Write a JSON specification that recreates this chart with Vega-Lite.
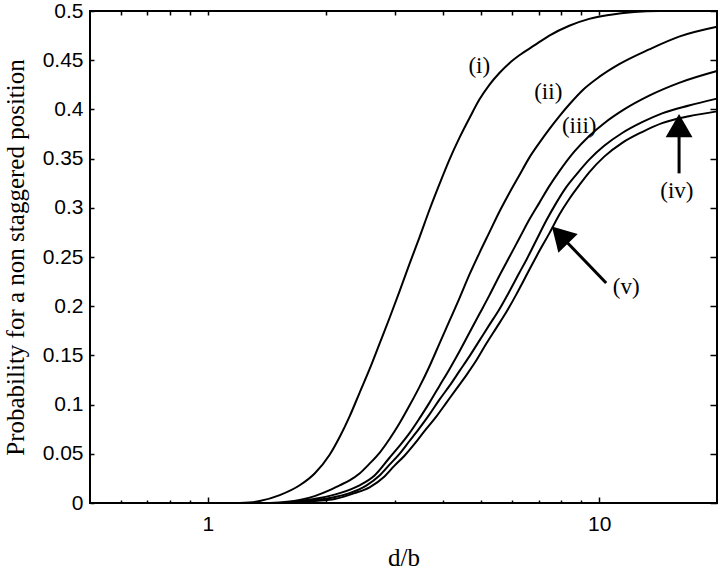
{
  "$schema": "https://vega.github.io/schema/vega-lite/v6.json",
  "width": 627,
  "height": 492,
  "autosize": {"type": "none"},
  "padding": {"left": 90, "top": 11, "right": 3, "bottom": 68},
  "background": "white",
  "config": {
    "view": {"stroke": "black", "strokeWidth": 2},
    "axis": {"domain": false, "grid": false, "tickColor": "black", "tickWidth": 1.5, "labelColor": "black", "titleColor": "black", "labelFont": "Liberation Sans", "labelFontSize": 21, "titleFont": "Liberation Serif", "titleFontSize": 25, "titleFontWeight": "normal"}
  },
  "datasets": {
    "curves": [
      {"c": "i", "d": 1.207, "p": 0}, {"c": "i", "d": 1.357, "p": 0.002}, {"c": "i", "d": 1.527, "p": 0.008}, {"c": "i", "d": 1.717, "p": 0.018}, {"c": "i", "d": 1.875, "p": 0.030}, {"c": "i", "d": 2.048, "p": 0.049}, {"c": "i", "d": 2.172, "p": 0.067}, {"c": "i", "d": 2.303, "p": 0.088}, {"c": "i", "d": 2.442, "p": 0.112}, {"c": "i", "d": 2.590, "p": 0.136}, {"c": "i", "d": 2.747, "p": 0.162}, {"c": "i", "d": 2.913, "p": 0.188}, {"c": "i", "d": 3.089, "p": 0.215}, {"c": "i", "d": 3.276, "p": 0.243}, {"c": "i", "d": 3.474, "p": 0.270}, {"c": "i", "d": 3.685, "p": 0.298}, {"c": "i", "d": 3.907, "p": 0.324}, {"c": "i", "d": 4.144, "p": 0.349}, {"c": "i", "d": 4.394, "p": 0.371}, {"c": "i", "d": 4.660, "p": 0.391}, {"c": "i", "d": 4.942, "p": 0.410}, {"c": "i", "d": 5.241, "p": 0.425}, {"c": "i", "d": 5.559, "p": 0.437}, {"c": "i", "d": 5.895, "p": 0.447}, {"c": "i", "d": 6.252, "p": 0.455}, {"c": "i", "d": 6.826, "p": 0.465}, {"c": "i", "d": 7.457, "p": 0.475}, {"c": "i", "d": 8.385, "p": 0.485}, {"c": "i", "d": 9.430, "p": 0.492}, {"c": "i", "d": 10.60, "p": 0.496}, {"c": "i", "d": 12.28, "p": 0.499}, {"c": "i", "d": 14.23, "p": 0.5}, {"c": "i", "d": 20, "p": 0.5},
      {"c": "ii", "d": 1.439, "p": 0}, {"c": "ii", "d": 1.717, "p": 0.003}, {"c": "ii", "d": 1.875, "p": 0.007}, {"c": "ii", "d": 2.048, "p": 0.013}, {"c": "ii", "d": 2.172, "p": 0.018}, {"c": "ii", "d": 2.303, "p": 0.023}, {"c": "ii", "d": 2.442, "p": 0.030}, {"c": "ii", "d": 2.590, "p": 0.040}, {"c": "ii", "d": 2.747, "p": 0.051}, {"c": "ii", "d": 2.913, "p": 0.065}, {"c": "ii", "d": 3.089, "p": 0.081}, {"c": "ii", "d": 3.276, "p": 0.099}, {"c": "ii", "d": 3.474, "p": 0.118}, {"c": "ii", "d": 3.685, "p": 0.139}, {"c": "ii", "d": 3.907, "p": 0.162}, {"c": "ii", "d": 4.144, "p": 0.185}, {"c": "ii", "d": 4.394, "p": 0.208}, {"c": "ii", "d": 4.660, "p": 0.232}, {"c": "ii", "d": 4.942, "p": 0.254}, {"c": "ii", "d": 5.241, "p": 0.275}, {"c": "ii", "d": 5.559, "p": 0.296}, {"c": "ii", "d": 5.895, "p": 0.315}, {"c": "ii", "d": 6.252, "p": 0.333}, {"c": "ii", "d": 6.630, "p": 0.351}, {"c": "ii", "d": 7.031, "p": 0.366}, {"c": "ii", "d": 7.457, "p": 0.380}, {"c": "ii", "d": 7.907, "p": 0.393}, {"c": "ii", "d": 8.385, "p": 0.405}, {"c": "ii", "d": 9.156, "p": 0.421}, {"c": "ii", "d": 10.0, "p": 0.433}, {"c": "ii", "d": 11.25, "p": 0.446}, {"c": "ii", "d": 13.42, "p": 0.461}, {"c": "ii", "d": 16.0, "p": 0.474}, {"c": "ii", "d": 20, "p": 0.484},
      {"c": "iii", "d": 1.554, "p": 0}, {"c": "iii", "d": 1.717, "p": 0.002}, {"c": "iii", "d": 1.931, "p": 0.005}, {"c": "iii", "d": 2.172, "p": 0.010}, {"c": "iii", "d": 2.442, "p": 0.018}, {"c": "iii", "d": 2.667, "p": 0.028}, {"c": "iii", "d": 2.913, "p": 0.046}, {"c": "iii", "d": 3.089, "p": 0.058}, {"c": "iii", "d": 3.276, "p": 0.071}, {"c": "iii", "d": 3.474, "p": 0.086}, {"c": "iii", "d": 3.685, "p": 0.102}, {"c": "iii", "d": 3.907, "p": 0.119}, {"c": "iii", "d": 4.144, "p": 0.136}, {"c": "iii", "d": 4.394, "p": 0.154}, {"c": "iii", "d": 4.660, "p": 0.173}, {"c": "iii", "d": 4.942, "p": 0.192}, {"c": "iii", "d": 5.241, "p": 0.211}, {"c": "iii", "d": 5.559, "p": 0.231}, {"c": "iii", "d": 5.895, "p": 0.250}, {"c": "iii", "d": 6.252, "p": 0.269}, {"c": "iii", "d": 6.630, "p": 0.288}, {"c": "iii", "d": 7.031, "p": 0.305}, {"c": "iii", "d": 7.457, "p": 0.322}, {"c": "iii", "d": 7.907, "p": 0.337}, {"c": "iii", "d": 8.636, "p": 0.357}, {"c": "iii", "d": 9.430, "p": 0.373}, {"c": "iii", "d": 10.30, "p": 0.386}, {"c": "iii", "d": 11.58, "p": 0.400}, {"c": "iii", "d": 13.42, "p": 0.414}, {"c": "iii", "d": 16.0, "p": 0.427}, {"c": "iii", "d": 20, "p": 0.439},
      {"c": "iv", "d": 1.619, "p": 0}, {"c": "iv", "d": 1.820, "p": 0.002}, {"c": "iv", "d": 2.048, "p": 0.005}, {"c": "iv", "d": 2.303, "p": 0.010}, {"c": "iv", "d": 2.545, "p": 0.018}, {"c": "iv", "d": 2.747, "p": 0.028}, {"c": "iv", "d": 2.913, "p": 0.039}, {"c": "iv", "d": 3.089, "p": 0.050}, {"c": "iv", "d": 3.276, "p": 0.063}, {"c": "iv", "d": 3.474, "p": 0.076}, {"c": "iv", "d": 3.685, "p": 0.090}, {"c": "iv", "d": 3.907, "p": 0.105}, {"c": "iv", "d": 4.144, "p": 0.119}, {"c": "iv", "d": 4.394, "p": 0.134}, {"c": "iv", "d": 4.660, "p": 0.149}, {"c": "iv", "d": 4.942, "p": 0.165}, {"c": "iv", "d": 5.241, "p": 0.181}, {"c": "iv", "d": 5.559, "p": 0.197}, {"c": "iv", "d": 5.895, "p": 0.215}, {"c": "iv", "d": 6.252, "p": 0.234}, {"c": "iv", "d": 6.514, "p": 0.247}, {"c": "iv", "d": 6.907, "p": 0.267}, {"c": "iv", "d": 7.326, "p": 0.287}, {"c": "iv", "d": 7.769, "p": 0.305}, {"c": "iv", "d": 8.239, "p": 0.321}, {"c": "iv", "d": 8.790, "p": 0.335}, {"c": "iv", "d": 9.430, "p": 0.349}, {"c": "iv", "d": 10.30, "p": 0.363}, {"c": "iv", "d": 11.45, "p": 0.376}, {"c": "iv", "d": 12.87, "p": 0.387}, {"c": "iv", "d": 14.48, "p": 0.396}, {"c": "iv", "d": 16.96, "p": 0.404}, {"c": "iv", "d": 20, "p": 0.411},
      {"c": "v", "d": 1.667, "p": 0}, {"c": "v", "d": 1.875, "p": 0.002}, {"c": "v", "d": 2.109, "p": 0.004}, {"c": "v", "d": 2.371, "p": 0.010}, {"c": "v", "d": 2.590, "p": 0.016}, {"c": "v", "d": 2.828, "p": 0.027}, {"c": "v", "d": 3.000, "p": 0.038}, {"c": "v", "d": 3.181, "p": 0.048}, {"c": "v", "d": 3.374, "p": 0.060}, {"c": "v", "d": 3.577, "p": 0.073}, {"c": "v", "d": 3.839, "p": 0.088}, {"c": "v", "d": 4.071, "p": 0.102}, {"c": "v", "d": 4.317, "p": 0.116}, {"c": "v", "d": 4.579, "p": 0.130}, {"c": "v", "d": 4.856, "p": 0.145}, {"c": "v", "d": 5.149, "p": 0.162}, {"c": "v", "d": 5.461, "p": 0.178}, {"c": "v", "d": 5.792, "p": 0.194}, {"c": "v", "d": 6.142, "p": 0.212}, {"c": "v", "d": 6.630, "p": 0.237}, {"c": "v", "d": 7.031, "p": 0.256}, {"c": "v", "d": 7.457, "p": 0.274}, {"c": "v", "d": 7.907, "p": 0.293}, {"c": "v", "d": 8.385, "p": 0.309}, {"c": "v", "d": 8.894, "p": 0.323}, {"c": "v", "d": 9.430, "p": 0.336}, {"c": "v", "d": 10.30, "p": 0.352}, {"c": "v", "d": 11.45, "p": 0.366}, {"c": "v", "d": 12.87, "p": 0.377}, {"c": "v", "d": 14.48, "p": 0.386}, {"c": "v", "d": 16.96, "p": 0.393}, {"c": "v", "d": 20, "p": 0.398}
    ],
    "labels": [
      {"t": "(i)", "d": 4.94, "p": 0.444},
      {"t": "(ii)", "d": 7.41, "p": 0.418},
      {"t": "(iii)", "d": 8.89, "p": 0.383},
      {"t": "(iv)", "d": 15.8, "p": 0.317},
      {"t": "(v)", "d": 11.72, "p": 0.2195}
    ],
    "shafts": [
      {"d": 16.0, "p": 0.335, "d2": 16.0, "p2": 0.383},
      {"d": 10.42, "p": 0.2236, "d2": 7.94, "p2": 0.2724}
    ],
    "heads": [
      {"d": 16.0, "p": 0.3836, "a": 0},
      {"d": 7.94, "p": 0.2724, "a": -44}
    ]
  },
  "resolve": {"axis": {"x": "independent", "y": "independent"}},
  "layer": [
    {
      "data": {"name": "curves"},
      "mark": {"type": "line", "color": "black", "strokeWidth": 2, "interpolate": "monotone"},
      "encoding": {
        "x": {"field": "d", "type": "quantitative", "scale": {"type": "log", "domain": [0.5, 20], "nice": false},
              "axis": {"orient": "bottom", "title": "d/b", "values": [0.6, 0.7, 0.8, 0.9, 1, 2, 3, 4, 5, 6, 7, 8, 9, 10], "format": "~g",
                       "labelExpr": "datum.value == 1 || datum.value == 10 ? datum.label : ''",
                       "tickSize": {"condition": {"test": "datum.value == 1 || datum.value == 10", "value": -6}, "value": -3},
                       "labelPadding": 16, "titlePadding": 8, "labelFlush": false, "labelOverlap": false}},
        "y": {"field": "p", "type": "quantitative", "scale": {"domain": [0, 0.5], "nice": false},
              "axis": {"orient": "left", "title": "Probability for a non staggered position",
                       "values": [0, 0.05, 0.1, 0.15, 0.2, 0.25, 0.3, 0.35, 0.4, 0.45, 0.5], "format": "~g",
                       "tickSize": -4, "labelPadding": 11, "titlePadding": 14, "labelFlush": false, "labelOverlap": false}},
        "detail": {"field": "c"}
      }
    },
    {
      "data": {"name": "labels"},
      "mark": {"type": "text", "font": "Liberation Serif", "fontSize": 23, "color": "black", "align": "center", "baseline": "middle"},
      "encoding": {
        "x": {"field": "d", "type": "quantitative", "scale": {"type": "log", "domain": [0.5, 20], "nice": false},
              "axis": {"orient": "top", "title": null, "labels": false, "values": [0.6, 0.7, 0.8, 0.9, 1, 2, 3, 4, 5, 6, 7, 8, 9, 10], "tickSize": -4}},
        "y": {"field": "p", "type": "quantitative", "scale": {"domain": [0, 0.5], "nice": false},
              "axis": {"orient": "right", "title": null, "labels": false, "values": [0, 0.05, 0.1, 0.15, 0.2, 0.25, 0.3, 0.35, 0.4, 0.45, 0.5], "tickSize": -7}},
        "text": {"field": "t"}
      }
    },
    {
      "data": {"name": "shafts"},
      "mark": {"type": "rule", "color": "black", "strokeWidth": 3},
      "encoding": {
        "x": {"field": "d", "type": "quantitative", "axis": null},
        "y": {"field": "p", "type": "quantitative", "axis": null},
        "x2": {"field": "d2"},
        "y2": {"field": "p2"}
      }
    },
    {
      "data": {"name": "heads"},
      "mark": {"type": "point", "shape": "triangle-up", "filled": true, "color": "black", "opacity": 1, "size": 720},
      "encoding": {
        "x": {"field": "d", "type": "quantitative", "axis": null},
        "y": {"field": "p", "type": "quantitative", "axis": null},
        "angle": {"field": "a", "type": "quantitative", "scale": null}
      }
    }
  ]
}
